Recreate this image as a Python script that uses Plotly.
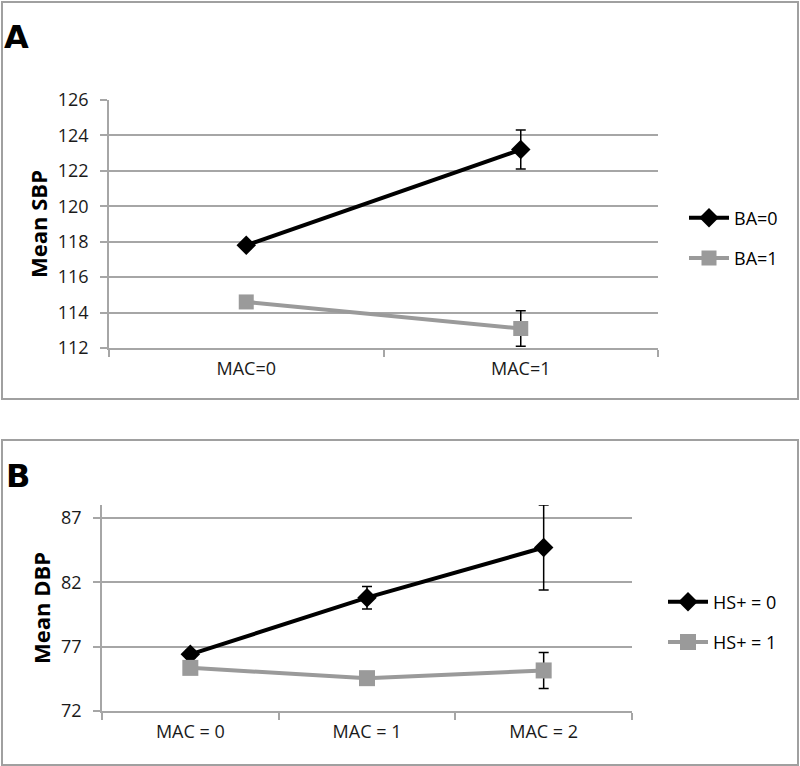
import plotly.graph_objects as go

# Panel A data
cats_a = ["MAC=0", "MAC=1"]
ba0_mean = [117.8, 123.2]
ba0_err = [0.2, 1.1]
ba1_mean = [114.6, 113.1]
ba1_err = [0.15, 1.0]
ticks_a = [112, 114, 116, 118, 120, 122, 124, 126]

# Panel B data
cats_b = ["MAC = 0", "MAC = 1", "MAC = 2"]
hs0_mean = [76.4, 80.8, 84.7]
hs0_err = [0.3, 0.87, 3.3]
hs1_mean = [75.35, 74.55, 75.15]
hs1_err = [0.2, 0.2, 1.4]
ticks_b = [72, 77, 82, 87]

W, H = 800, 766
FONT = "Open Sans"
GRID = "#A6A6A6"
BLACK = "#000000"
GRAY = "#9A9A9A"

def px(x):
    return x / W

def py(y):
    return 1 - y / H

fig = go.Figure()

def add_series(x, y, err, name, color, symbol, size, xa, ya, legend, group):
    fig.add_trace(go.Scatter(
        x=x, y=y, name=name, mode="lines+markers",
        line=dict(color=color, width=4),
        marker=dict(symbol=symbol, size=size, color=color),
        error_y=dict(type="data", array=err, visible=True, color=BLACK,
                     thickness=1.5, width=5),
        xaxis=xa, yaxis=ya, legend=legend, legendgroup=group,
    ))

add_series(cats_a, ba0_mean, ba0_err, "BA=0", BLACK, "diamond", 15, "x", "y", "legend", "a0")
add_series(cats_a, ba1_mean, ba1_err, "BA=1", GRAY, "square", 15, "x", "y", "legend", "a1")
add_series(cats_b, hs0_mean, hs0_err, "HS+ = 0", BLACK, "diamond", 15, "x2", "y2", "legend2", "b0")
add_series(cats_b, hs1_mean, hs1_err, "HS+ = 1", GRAY, "square", 16, "x2", "y2", "legend2", "b1")

tickfont = dict(family=FONT, size=18, color="#1a1a1a")
titlefont = dict(family=FONT, size=22, color="#000000", weight="bold")

common_x = dict(type="category", showline=True, linecolor=GRID, linewidth=1.5,
                ticks="outside", tickson="boundaries", ticklen=7, tickcolor=GRID,
                tickwidth=1.5, showgrid=False, tickfont=tickfont, fixedrange=True,
                automargin=False, ticklabelstandoff=4)
common_y = dict(showline=True, linecolor=GRID, linewidth=1.5, ticks="outside",
                ticklen=7, tickcolor=GRID, tickwidth=1.5, showgrid=True,
                gridcolor=GRID, gridwidth=1.5, zeroline=False, tickfont=tickfont,
                automargin=False, ticklabelstandoff=8)

fig.update_layout(
    width=W, height=H,
    margin=dict(l=0, r=0, t=0, b=0, autoexpand=False),
    paper_bgcolor="white", plot_bgcolor="white",
    showlegend=True,
    xaxis=dict(common_x, domain=[px(109), px(658)], anchor="y", range=[-0.5, 1.5]),
    yaxis=dict(common_y, domain=[py(348), py(100)], anchor="x",
               range=[112, 126], tickvals=ticks_a,
               title=dict(text="Mean SBP", font=titlefont, standoff=4)),
    xaxis2=dict(common_x, domain=[px(102), px(632)], anchor="y2", range=[-0.5, 2.5]),
    yaxis2=dict(common_y, domain=[py(711), py(505)], anchor="x2",
                range=[72, 88], tickvals=ticks_b,
                title=dict(text="Mean DBP", font=titlefont, standoff=4)),
    legend=dict(x=px(684), y=py(238), xanchor="left", yanchor="middle",
                font=dict(family=FONT, size=18, color="#000000"),
                tracegroupgap=14, bgcolor="rgba(0,0,0,0)", itemwidth=40),
    legend2=dict(x=px(663), y=py(622), xanchor="left", yanchor="middle",
                 font=dict(family=FONT, size=18, color="#000000"),
                 tracegroupgap=14, bgcolor="rgba(0,0,0,0)", itemwidth=40),
    shapes=[
        dict(type="rect", xref="paper", yref="paper",
             x0=px(2), x1=px(798), y0=py(399), y1=py(2),
             line=dict(color="#A0A0A0", width=2), layer="below"),
        dict(type="rect", xref="paper", yref="paper",
             x0=px(2), x1=px(798), y0=py(765), y1=py(440),
             line=dict(color="#A0A0A0", width=2), layer="below"),
    ],
    annotations=[
        dict(text="<b>A</b>", xref="paper", yref="paper", x=px(16), y=py(37),
             xanchor="center", yanchor="middle", showarrow=False,
             font=dict(family="DejaVu Sans", size=32, color="#000000")),
        dict(text="<b>B</b>", xref="paper", yref="paper", x=px(18), y=py(476),
             xanchor="center", yanchor="middle", showarrow=False,
             font=dict(family="DejaVu Sans", size=32, color="#000000")),
    ],
)

fig.write_html("out.html", config={"displayModeBar": False},
               post_script="document.body.style.margin='0';")
